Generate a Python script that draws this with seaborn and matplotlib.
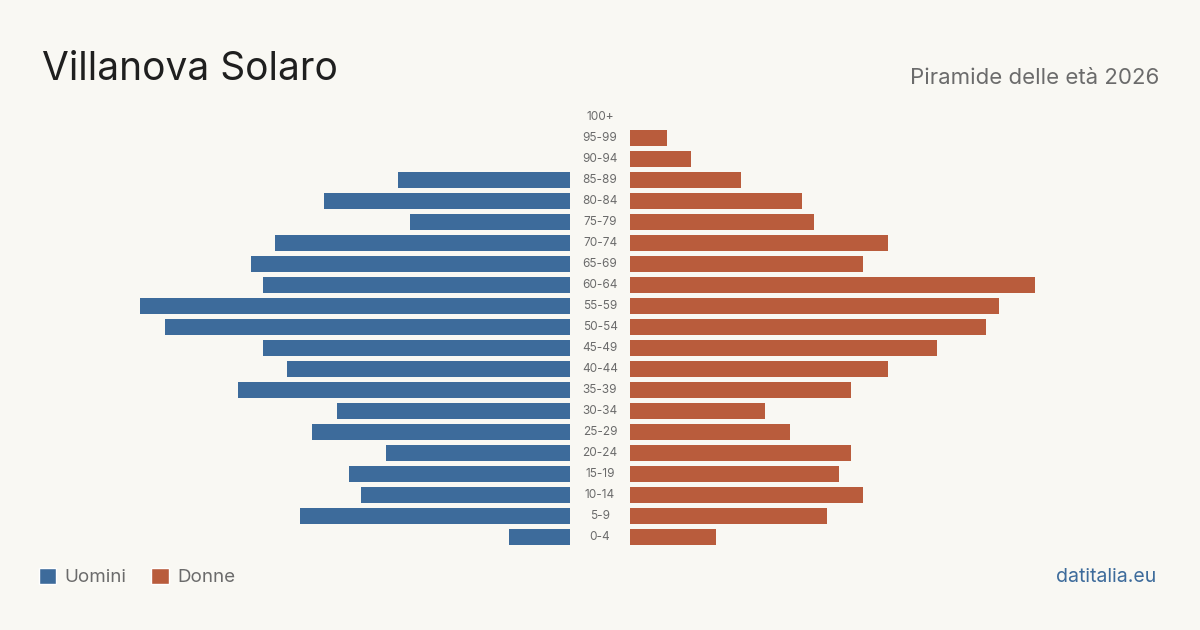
import numpy as np
import pandas as pd
import matplotlib
matplotlib.use("Agg")
import matplotlib.pyplot as plt
from matplotlib.patches import Patch
import seaborn as sns

# eta' dall'alto verso il basso
classi = ["100+", "95-99", "90-94", "85-89", "80-84", "75-79", "70-74", "65-69",
          "60-64", "55-59", "50-54", "45-49", "40-44", "35-39", "30-34", "25-29",
          "20-24", "15-19", "10-14", "5-9", "0-4"]
uomini = [0, 0, 0, 14, 20, 13, 24, 26, 25, 35, 33, 25, 23, 27, 19, 21, 15, 18, 17, 22, 5]
donne = [0, 3, 5, 9, 14, 15, 21, 19, 33, 30, 29, 25, 21, 18, 11, 13, 18, 17, 19, 16, 7]

BG = "#f9f8f3"
BLU = "#3d6b9b"
ROSSO = "#b95c3c"
GRIGIO = "#6b6b6b"

sns.set_theme(style="white")
plt.rcParams["font.family"] = ["Inter", "DejaVu Sans"]

df = pd.DataFrame({"classe": classi, "uomini": uomini, "donne": donne})
xmax = 35

fig = plt.figure(figsize=(12, 6.3), dpi=100, facecolor=BG)
ax_u = fig.add_axes([140 / 1200, 82.5 / 630, 430 / 1200, 441 / 630])
ax_d = fig.add_axes([630 / 1200, 82.5 / 630, 430 / 1200, 441 / 630])

sns.barplot(data=df, x="uomini", y="classe", order=classi, color=BLU,
            width=0.8, saturation=1, linewidth=0, ax=ax_u)
sns.barplot(data=df, x="donne", y="classe", order=classi, color=ROSSO,
            width=0.8, saturation=1, linewidth=0, ax=ax_d)

ax_u.set_xlim(xmax, 0)
ax_d.set_xlim(0, xmax)
for ax in (ax_u, ax_d):
    ax.set_ylim(len(classi) - 0.5, -0.5)
    ax.set_facecolor("none")
    ax.set_xlabel("")
    ax.set_ylabel("")
    ax.set_xticks([])
    ax.set_yticks([])
    sns.despine(ax=ax, left=True, bottom=True)

# etichette delle classi al centro
for i, c in enumerate(classi):
    y = 1 - (117 + 21 * i) / 630
    fig.text(600 / 1200, y, c, ha="center", va="center", fontsize=8.5, color=GRIGIO)

fig.text(42 / 1200, 1 - 69 / 630, "Villanova Solaro", fontsize=28, color="#1f1f1f",
         ha="left", va="center")
fig.text(1159 / 1200, 1 - 78 / 630, "Piramide delle età 2026", fontsize=16,
         color=GRIGIO, ha="right", va="center")
fig.text(1156 / 1200, 1 - 577 / 630, "datitalia.eu", fontsize=14, color=BLU,
         ha="right", va="center")

handles = [Patch(facecolor=BLU, label="Uomini"), Patch(facecolor=ROSSO, label="Donne")]
leg = fig.legend(handles=handles, loc="center left", bbox_to_anchor=(31 / 1200, 1 - 577 / 630),
                 ncol=2, frameon=False, fontsize=13.5, handlelength=0.95, handleheight=0.95,
                 handletextpad=0.45, columnspacing=1.3, borderaxespad=0)
for t in leg.get_texts():
    t.set_color(GRIGIO)

fig.savefig("out.png", dpi=100, facecolor=BG)
